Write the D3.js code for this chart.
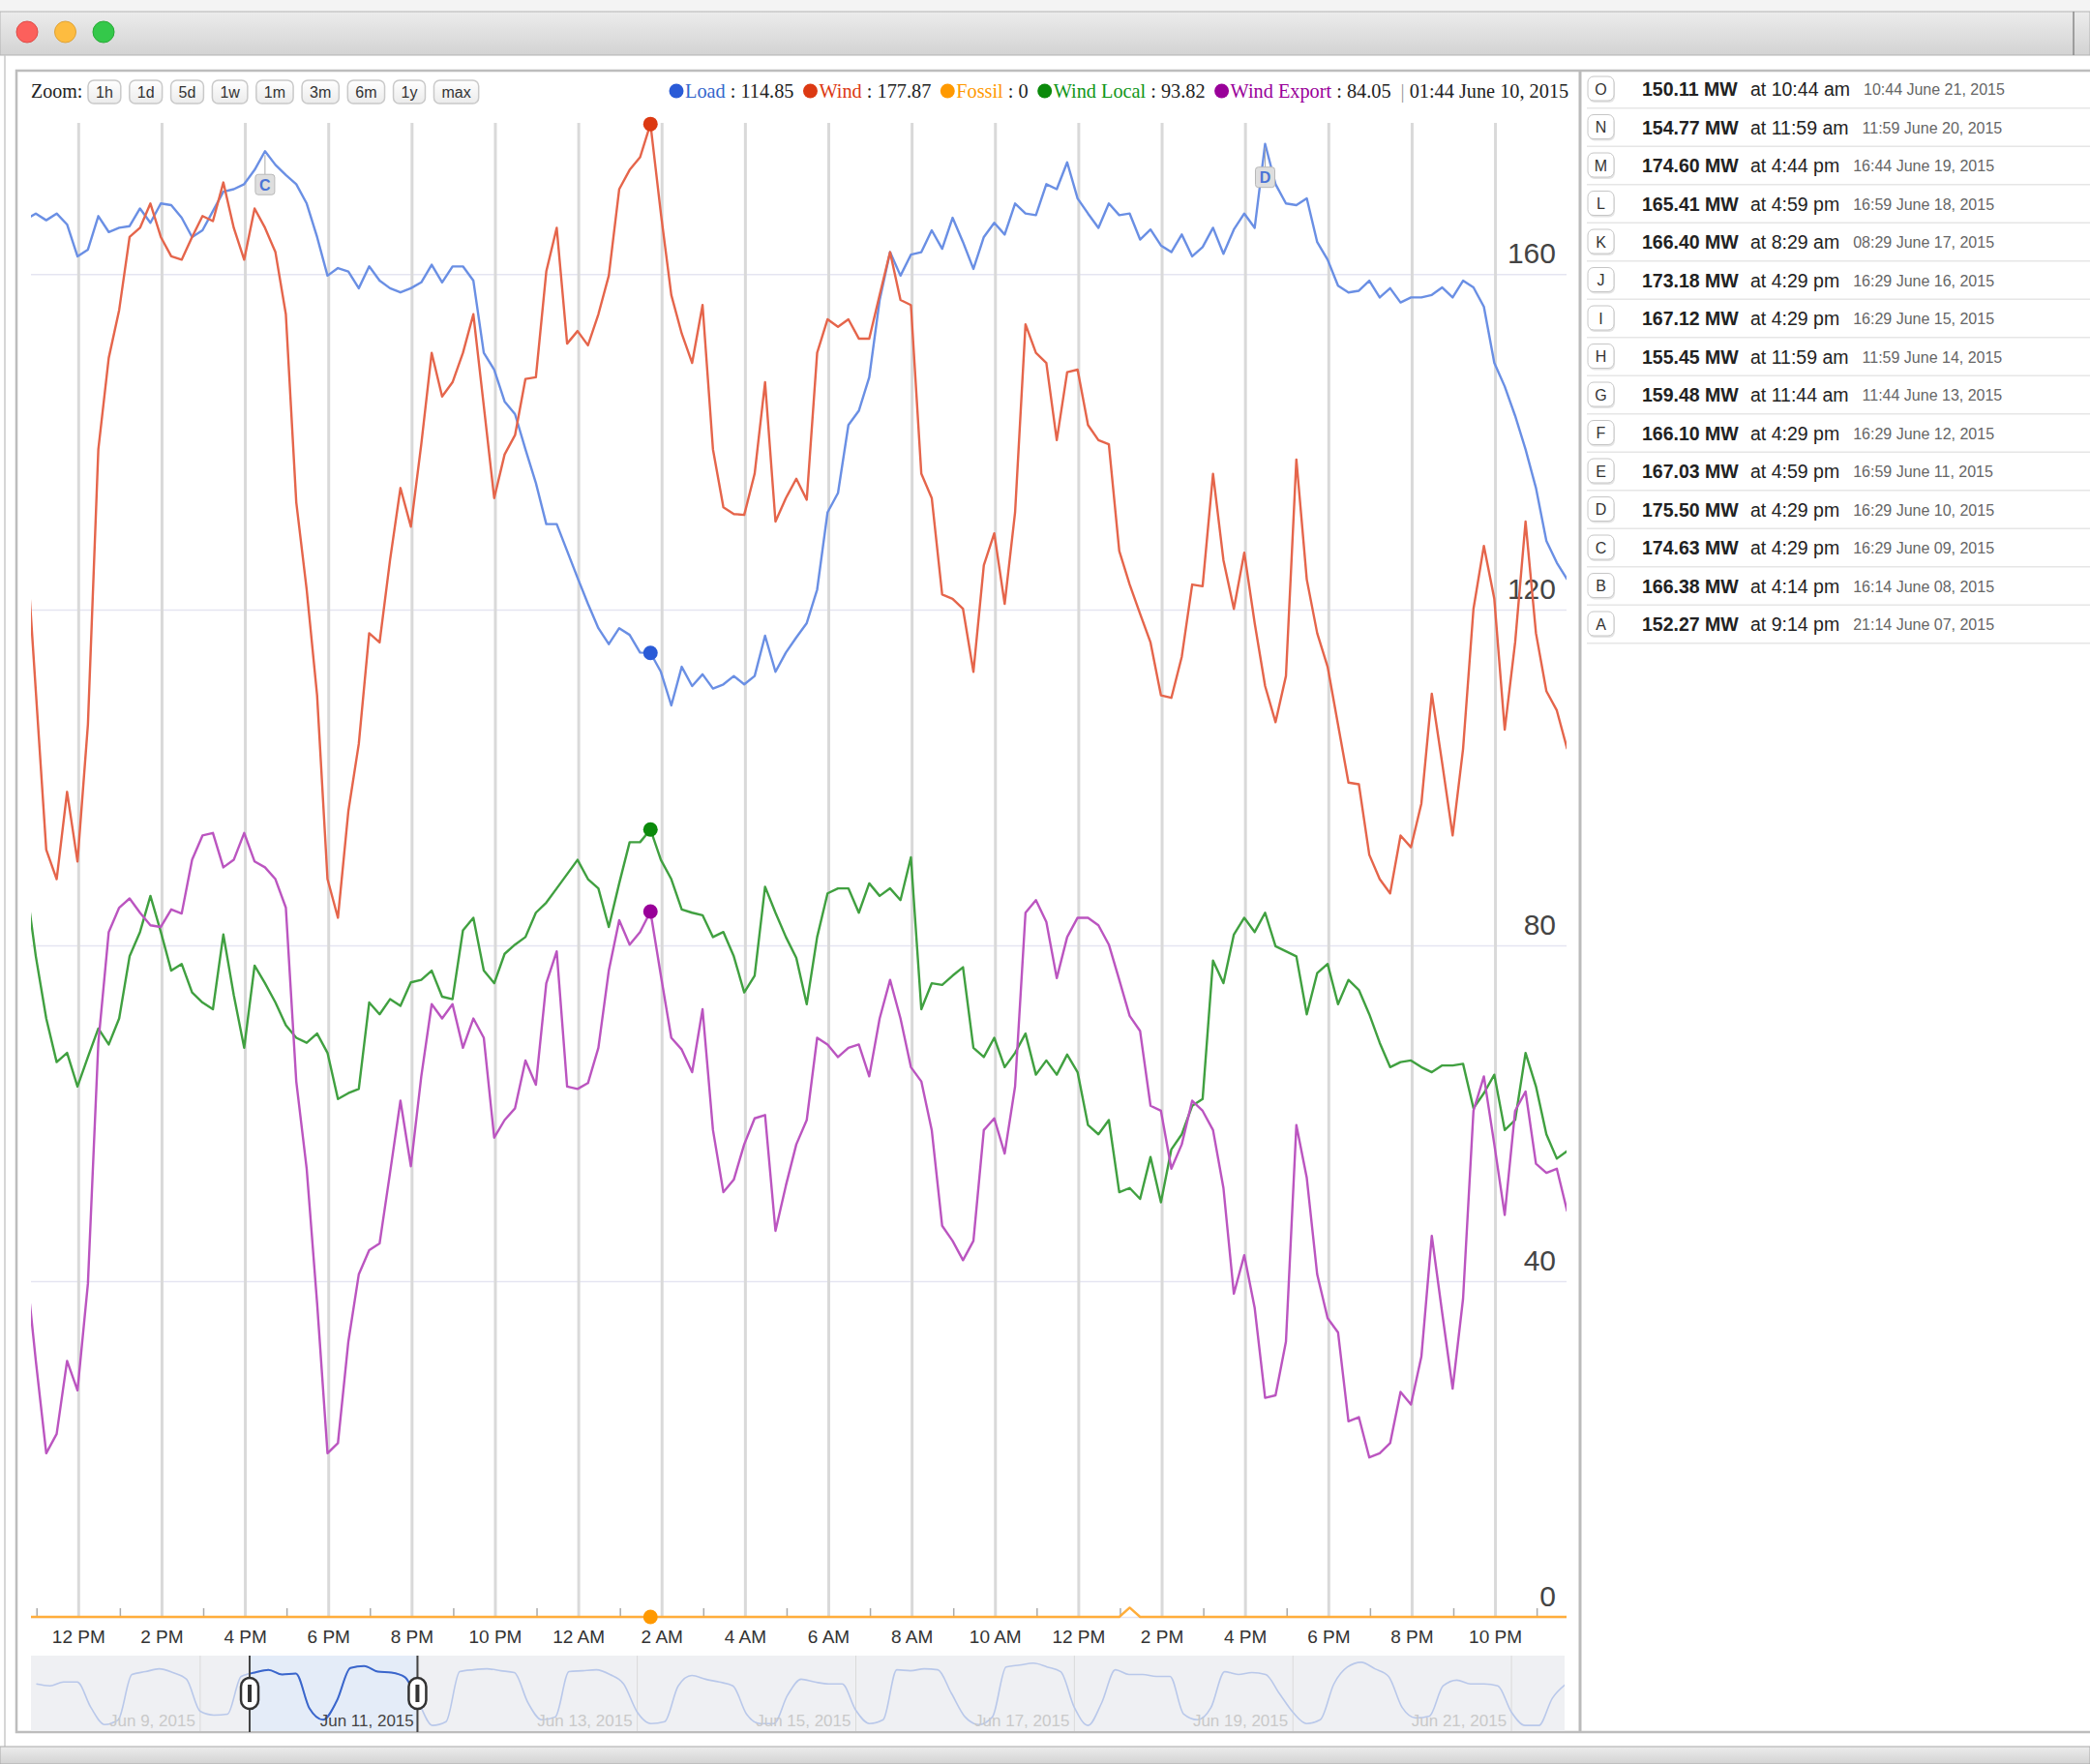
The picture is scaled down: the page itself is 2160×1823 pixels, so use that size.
<!DOCTYPE html>
<html lang="en">
<head>
    <meta charset="UTF-8">
    <title>Load and Wind, June 2015</title>
    <script src="https://d3js.org/d3.v7.min.js"></script>
    <style>
        body { margin: 0; background: #fff; }
        svg { display: block; }
        .sans { font-family: "Liberation Sans", Arial, Helvetica, sans-serif; }
        .serif { font-family: "Liberation Serif", "Times New Roman", serif; }
        .legend { font-size: 20.3px; }
        .x-label text { font-size: 19px; fill: #333; }
        .y-label text { font-size: 30px; fill: #444; }
        .grid-v line { stroke: #d9d9d9; stroke-width: 3px; }
        .grid-h line { stroke: #e5e5f1; stroke-width: 1.5px; }
        .minor line { stroke: #aaa; stroke-width: 1.5px; }
        .series { fill: none; stroke-width: 2.4px; stroke-linejoin: round; }
        .ann-value { font-size: 19.5px; font-weight: bold; fill: #222; }
        .ann-time { font-size: 19.5px; fill: #222; }
        .ann-date { font-size: 16px; fill: #666; }
    </style>
</head>
<body>
<div id="chart"></div>

<script>
    // samples every 15 minutes, first one at 10:44 June 9, 2015
    var startTime = new Date(2015, 5, 9, 10, 44);
    var stepMinutes = 15;

    var load = [
        166.5, 167.2, 166.4, 167.2, 165.9, 162.1, 162.9, 166.9, 165.0, 165.5,
        165.7, 167.8, 166.1, 168.4, 168.2, 166.7, 164.4, 165.2, 167.5, 169.8,
        170.1, 170.7, 172.4, 174.63, 173.0, 171.8, 170.7, 168.4, 164.4, 159.8,
        160.7, 160.3, 158.3, 160.9, 159.2, 158.3, 157.8, 158.3, 159.0, 161.1,
        159.0, 160.9, 160.9, 159.2, 150.6, 148.6, 144.8, 143.3, 139.1, 135.1,
        130.2, 130.2, 127.0, 123.8, 120.7, 117.8, 115.9, 117.8, 117.0, 114.9,
        114.85, 112.6, 108.6, 113.2, 110.9, 112.3, 110.6, 111.1, 112.1, 111.1,
        112.1, 116.9, 112.6, 114.9, 116.7, 118.4, 122.4, 131.6, 133.9, 142.0,
        143.7, 147.7, 156.9, 162.6, 159.8, 162.3, 162.6, 165.2, 163.0, 166.7,
        163.8, 160.6, 164.4, 166.1, 164.7, 168.4, 167.2, 167.0, 170.7, 170.1,
        173.3, 169.0, 167.2, 165.5, 168.4, 167.0, 167.2, 164.1, 165.3, 163.4,
        162.6, 164.7, 162.1, 163.2, 165.5, 162.4, 165.3, 167.2, 165.5, 175.5,
        170.7, 168.4, 168.2, 169.0, 163.8, 161.7, 158.6, 157.8, 158.0, 159.2,
        157.2, 158.3, 156.6, 157.2, 157.2, 157.5, 158.4, 157.2, 159.2, 158.4,
        156.1, 149.4, 146.6, 143.1, 139.1, 134.5, 128.2, 125.6, 123.6
    ];
    var wind = [
        129.3, 110.3, 91.4, 87.9, 98.3, 90.0, 106.3, 139.1, 150.0, 155.7,
        164.4, 165.5, 168.4, 164.4, 162.1, 161.7, 164.4, 166.9, 166.3, 170.9,
        165.5, 161.7, 167.8, 165.5, 162.6, 155.2, 132.8, 122.4, 109.8, 87.9,
        83.3, 96.0, 104.0, 117.2, 116.1, 125.9, 134.5, 129.9, 139.7, 150.6,
        145.4, 147.1, 150.6, 155.2, 144.3, 133.3, 138.5, 140.8, 147.5, 147.7,
        160.3, 165.5, 151.7, 153.2, 151.5, 155.2, 159.8, 170.1, 172.4, 173.9,
        177.87, 167.2, 157.5, 152.9, 149.4, 156.3, 139.1, 132.2, 131.4, 131.3,
        136.2, 147.1, 130.5, 133.3, 135.6, 133.1, 150.6, 154.6, 153.7, 154.6,
        152.3, 152.3, 157.5, 162.6, 156.9, 156.3, 136.2, 133.3, 121.8, 121.3,
        120.1, 112.6, 125.3, 129.1, 120.7, 131.6, 154.0, 150.6, 149.4, 140.2,
        148.3, 148.6, 142.0, 140.2, 139.7, 127.0, 123.0, 119.5, 116.1, 109.8,
        109.5, 114.4, 123.0, 122.8, 136.2, 125.9, 120.1, 126.8, 118.4, 110.9,
        106.6, 112.1, 137.9, 123.6, 117.2, 113.2, 106.3, 99.4, 99.2, 90.8,
        87.9, 86.2, 93.1, 91.7, 96.9, 110.0, 101.7, 93.1, 103.4, 120.1,
        127.6, 121.3, 105.7, 116.1, 130.5, 117.2, 110.3, 108.0, 103.4
    ];
    var fossil = [
        0, 0, 0, 0, 0, 0, 0, 0, 0, 0, 0, 0, 0, 0, 0, 0, 0, 0, 0, 0,
        0, 0, 0, 0, 0, 0, 0, 0, 0, 0, 0, 0, 0, 0, 0, 0, 0, 0, 0, 0,
        0, 0, 0, 0, 0, 0, 0, 0, 0, 0, 0, 0, 0, 0, 0, 0, 0, 0, 0, 0,
        0, 0, 0, 0, 0, 0, 0, 0, 0, 0, 0, 0, 0, 0, 0, 0, 0, 0, 0, 0,
        0, 0, 0, 0, 0, 0, 0, 0, 0, 0, 0, 0, 0, 0, 0, 0, 0, 0, 0, 0,
        0, 0, 0, 0, 0, 0, 1.1, 0, 0, 0, 0, 0, 0, 0, 0, 0, 0, 0, 0, 0,
        0, 0, 0, 0, 0, 0, 0, 0, 0, 0, 0, 0, 0, 0, 0, 0, 0, 0, 0, 0,
        0, 0, 0, 0, 0, 0, 0, 0, 0
    ];
    var windLocal = [
        87.9, 78.7, 71.3, 66.1, 67.2, 63.2, 66.7, 70.1, 68.2, 71.3,
        78.7, 81.6, 85.9, 81.6, 77.0, 77.8, 74.4, 73.2, 72.4, 81.3,
        74.1, 67.8, 77.6, 75.5, 73.2, 70.5, 69.0, 68.4, 69.5, 67.2,
        61.7, 62.4, 62.9, 73.2, 71.8, 73.6, 72.8, 75.6, 75.9, 77.0,
        73.9, 73.6, 81.8, 83.3, 77.0, 75.5, 79.0, 80.1, 81.0, 83.9,
        85.1, 86.8, 88.5, 90.2, 87.9, 86.8, 82.2, 87.4, 92.3, 92.3,
        93.82, 90.2, 87.9, 84.3, 83.9, 83.6, 81.0, 81.6, 78.7, 74.4,
        76.4, 87.0, 83.9, 81.0, 78.5, 73.0, 81.0, 86.2, 86.8, 86.8,
        83.9, 87.4, 85.9, 86.8, 85.4, 90.5, 72.4, 75.5, 75.3, 76.4,
        77.4, 67.8, 66.7, 69.0, 65.5, 67.2, 69.5, 64.6, 66.3, 64.6,
        67.0, 64.9, 58.6, 57.5, 59.2, 50.6, 51.1, 49.8, 54.8, 49.4,
        55.7, 57.5, 60.9, 61.7, 78.2, 75.5, 81.3, 83.3, 81.6, 83.9,
        79.9, 79.3, 78.7, 71.8, 76.7, 77.8, 73.0, 75.9, 74.7, 71.8,
        68.4, 65.5, 66.1, 66.3, 65.5, 64.9, 65.7, 65.7, 65.9, 60.6,
        62.4, 64.6, 58.0, 59.2, 67.2, 63.2, 57.5, 54.6, 55.5
    ];
    var windExport = [
        42.5, 30.5, 19.5, 21.8, 30.5, 27.0, 39.7, 68.4, 81.6, 84.5,
        85.6, 83.9, 82.4, 82.2, 84.3, 83.8, 90.2, 93.1, 93.4, 89.3,
        90.2, 93.4, 90.0, 89.3, 87.9, 84.5, 63.8, 53.4, 37.4, 19.5,
        20.7, 32.8, 40.8, 43.7, 44.5, 52.9, 61.5, 53.7, 64.4, 73.0,
        71.3, 73.0, 67.8, 71.3, 69.0, 57.1, 59.2, 60.6, 66.3, 63.4,
        75.5, 79.3, 63.2, 62.9, 63.6, 67.8, 77.0, 83.0, 80.1, 81.6,
        84.05, 76.4, 69.0, 67.6, 64.9, 72.4, 58.0, 50.6, 52.1, 56.3,
        59.4, 59.8, 46.0, 51.4, 56.3, 59.2, 69.0, 68.2, 66.7, 67.8,
        68.2, 64.4, 71.3, 75.9, 71.3, 65.5, 63.8, 58.0, 46.6, 44.8,
        42.5, 44.8, 58.0, 59.4, 55.2, 63.2, 83.9, 85.4, 82.8, 76.1,
        81.0, 83.3, 83.3, 82.4, 80.1, 75.9, 71.6, 69.8, 60.9, 60.3,
        53.4, 56.3, 61.5, 60.3, 58.0, 51.1, 38.5, 43.1, 36.8, 26.1,
        26.4, 32.8, 58.6, 52.3, 40.8, 35.6, 33.9, 23.3, 23.8, 19.0,
        19.5, 20.7, 26.8, 25.3, 31.0, 45.4, 36.2, 27.2, 37.9, 60.3,
        64.4, 56.3, 47.9, 60.3, 62.6, 54.0, 52.9, 53.4, 48.3
    ];

    var seriesNames = ["Load", "Wind", "Fossil", "Wind Local", "Wind Export"];
    var hoverIndex = 60;          // 01:44 June 10
    var yTicks = [0, 40, 80, 120, 160];
    var zoomLabels = ["1h", "1d", "5d", "1w", "1m", "3m", "6m", "1y", "max"];

    // lettered annotations, daily load peaks
    var annLetters = ["O", "N", "M", "L", "K", "J", "I", "H", "G", "F", "E", "D", "C", "B", "A"];
    var annValues = ["150.11", "154.77", "174.60", "165.41", "166.40", "173.18", "167.12", "155.45",
                     "159.48", "166.10", "167.03", "175.50", "174.63", "166.38", "152.27"];
    var annTimes = ["10:44 am", "11:59 am", "4:44 pm", "4:59 pm", "8:29 am", "4:29 pm", "4:29 pm", "11:59 am",
                    "11:44 am", "4:29 pm", "4:59 pm", "4:29 pm", "4:29 pm", "4:14 pm", "9:14 pm"];
    var annDates = ["10:44 June 21, 2015", "11:59 June 20, 2015", "16:44 June 19, 2015", "16:59 June 18, 2015",
                    "08:29 June 17, 2015", "16:29 June 16, 2015", "16:29 June 15, 2015", "11:59 June 14, 2015",
                    "11:44 June 13, 2015", "16:29 June 12, 2015", "16:59 June 11, 2015", "16:29 June 10, 2015",
                    "16:29 June 09, 2015", "16:14 June 08, 2015", "21:14 June 07, 2015"];
    var flagLetters = ["C", "D"];
    var flagIndex = [23, 119];

    // overview strip: load every 3 hours from 12:00 June 7
    var overviewStart = new Date(2015, 5, 7, 12, 0);
    var overviewStepHours = 3;
    var overviewLoad = [
        150, 148, 152, 152,
        125, 107, 112, 160, 163, 166, 162, 155,
        121, 117, 118, 158, 162, 165, 160, 161,
        124, 112, 132, 167, 169, 163, 162, 157,
        130, 106, 110, 163, 165, 166, 164, 162,
        130, 112, 115, 163, 164, 165, 160, 150,
        120, 108, 110, 148, 159, 155, 152, 148,
        118, 108, 108, 138, 155, 152, 150, 150,
        122, 108, 112, 165, 164, 166, 165, 140,
        115, 107, 115, 168, 170, 172, 168, 163,
        125, 106, 130, 165, 160, 160, 158, 158,
        118, 112, 125, 163, 160, 162, 160, 140,
        120, 108, 112, 150, 168, 173, 166, 158,
        125, 114, 116, 148, 154, 150, 150, 148,
        120, 106, 106, 135, 150
    ];
    var overviewDays = [new Date(2015, 5, 9), new Date(2015, 5, 11), new Date(2015, 5, 13), new Date(2015, 5, 15),
                        new Date(2015, 5, 17), new Date(2015, 5, 19), new Date(2015, 5, 21)];

    function init() {
        var w = 2160;
        var h = 1823;
        var plot = { left: 32, right: 1619, top: 127, bottom: 1671 };

        var lineColors = ["#6a8fe4", "#e5654b", "#ffad3b", "#40a040", "#bb55c0"];
        var dotColors = ["#2a5bd7", "#dc3912", "#ff9900", "#0b8a0b", "#990099"];
        var textColors = ["#3366cc", "#dc3912", "#ff9900", "#109618", "#990099"];
        var allValues = [load, wind, fossil, windLocal, windExport];

        var timeAt = function(i) { return d3.timeMinute.offset(startTime, i * stepMinutes); };

        var svg = d3.select("#chart")
            .append("svg")
            .attr("width", w)
            .attr("height", h);

        var defs = svg.append("defs");
        var tg = defs.append("linearGradient").attr("id", "titleGrad")
            .attr("x1", 0).attr("y1", 0).attr("x2", 0).attr("y2", 1);
        tg.append("stop").attr("offset", "0%").attr("stop-color", "#ececec");
        tg.append("stop").attr("offset", "100%").attr("stop-color", "#d3d3d3");
        var bg = defs.append("linearGradient").attr("id", "btnGrad")
            .attr("x1", 0).attr("y1", 0).attr("x2", 0).attr("y2", 1);
        bg.append("stop").attr("offset", "0%").attr("stop-color", "#ffffff");
        bg.append("stop").attr("offset", "100%").attr("stop-color", "#ebebeb");
        defs.append("clipPath").attr("id", "plotClip")
            .append("rect")
            .attr("x", plot.left).attr("y", 100)
            .attr("width", plot.right - plot.left).attr("height", plot.bottom - 90);

        // ---- window chrome ----
        svg.append("rect").attr("x", 0).attr("y", 0).attr("width", w).attr("height", 12).attr("fill", "#f4f4f4");
        svg.append("rect").attr("x", 0).attr("y", 12).attr("width", w).attr("height", 45)
            .attr("fill", "url(#titleGrad)").attr("stroke", "#b3b3b3");
        svg.append("line").attr("x1", 2143).attr("x2", 2143).attr("y1", 12).attr("y2", 57)
            .attr("stroke", "#888").attr("stroke-width", 1.5);
        var lights = [["#fc605c", "#de4a46"], ["#fdbc40", "#dea236"], ["#34c84a", "#27aa35"]];
        lights.forEach(function(c, i) {
            svg.append("circle").attr("cx", 28 + i * 39.5).attr("cy", 33).attr("r", 11)
                .attr("fill", c[0]).attr("stroke", c[1]);
        });
        svg.append("line").attr("x1", 5).attr("x2", 5).attr("y1", 57).attr("y2", 1805)
            .attr("stroke", "#c8c8c8").attr("stroke-width", 1.5);
        svg.append("rect").attr("x", 0).attr("y", 1805).attr("width", w).attr("height", 18)
            .attr("fill", "url(#titleGrad)").attr("stroke", "#aaa");

        // frame round the chart and the annotation panel
        svg.append("rect").attr("x", 17).attr("y", 73).attr("width", w).attr("height", 1717)
            .attr("fill", "#fff").attr("stroke", "#bdbdbd").attr("stroke-width", 2.5);
        svg.append("line").attr("x1", 1633).attr("x2", 1633).attr("y1", 73).attr("y2", 1790)
            .attr("stroke", "#bbb").attr("stroke-width", 3);

        // ---- zoom buttons ----
        svg.append("text").attr("class", "serif").attr("x", 32).attr("y", 101)
            .attr("font-size", 20).attr("fill", "#222").text("Zoom:");
        var bx = 91;
        zoomLabels.forEach(function(lab) {
            var g = svg.append("g");
            var r = g.append("rect").attr("y", 83).attr("height", 24).attr("rx", 6)
                .attr("fill", "url(#btnGrad)").attr("stroke", "#c9c9c9").attr("stroke-width", 1.5);
            var t = g.append("text").attr("class", "sans").attr("y", 100.5)
                .attr("font-size", 16).attr("fill", "#333").attr("text-anchor", "middle").text(lab);
            var tw = t.node().getComputedTextLength();
            r.attr("x", bx).attr("width", tw + 16);
            t.attr("x", bx + (tw + 16) / 2);
            bx += tw + 16 + 9;
        });

        // ---- legend ----
        var fmtDate = d3.timeFormat("%H:%M %B %-d, %Y");
        var lx = 692;
        seriesNames.forEach(function(name, i) {
            svg.append("circle").attr("cx", lx + 7).attr("cy", 94).attr("r", 7.5).attr("fill", dotColors[i]);
            var t = svg.append("text").attr("class", "serif legend").attr("x", lx + 16).attr("y", 101);
            t.append("tspan").attr("fill", textColors[i]).text(name);
            t.append("tspan").attr("fill", "#222").text(" : " + allValues[i][hoverIndex]);
            lx += 16 + t.node().getComputedTextLength() + 10;
        });
        var dt = svg.append("text").attr("class", "serif legend").attr("x", lx).attr("y", 101);
        dt.append("tspan").attr("fill", "#999").text("| ");
        dt.append("tspan").attr("fill", "#222").text(fmtDate(timeAt(hoverIndex)));

        // ---- scales ----
        var xScale = d3.scaleTime()
            .domain([new Date(2015, 5, 9, 10, 52), new Date(2015, 5, 10, 23, 43)])
            .range([plot.left, plot.right]);
        var yScale = d3.scaleLinear()
            .domain([0, 178])
            .range([plot.bottom, plot.top]);

        // horizontal grid + value labels
        var yAxis = svg.append("g")
            .attr("class", "grid-h y-label sans")
            .attr("transform", "translate(" + plot.right + ",0)")
            .call(d3.axisLeft(yScale).tickValues(yTicks).tickSize(plot.right - plot.left));
        yAxis.select(".domain").remove();
        yAxis.selectAll("text").attr("x", -11).attr("dy", null).attr("y", -12);

        // vertical grid every two hours
        var xGrid = svg.append("g")
            .attr("class", "grid-v")
            .attr("transform", "translate(0," + plot.bottom + ")")
            .call(d3.axisBottom(xScale).ticks(d3.timeHour.every(2))
                .tickSize(-(plot.bottom - plot.top)).tickFormat(""));
        xGrid.select(".domain").remove();

        // short ticks on odd hours
        var minor = svg.append("g")
            .attr("class", "minor")
            .attr("transform", "translate(0," + plot.bottom + ")")
            .call(d3.axisBottom(xScale)
                .tickValues(xScale.ticks(d3.timeHour.every(1)).filter(function(d) { return d.getHours() % 2 === 1; }))
                .tickSize(-9).tickFormat(""));
        minor.select(".domain").remove();

        var xAxis = svg.append("g")
            .attr("class", "x-label sans")
            .attr("transform", "translate(0," + plot.bottom + ")")
            .call(d3.axisBottom(xScale).ticks(d3.timeHour.every(2))
                .tickFormat(d3.timeFormat("%-I %p")).tickSize(0).tickPadding(14));
        xAxis.select(".domain").remove();

        // ---- series lines ----
        var line = d3.line()
            .x(function(d, i) { return xScale(timeAt(i)); })
            .y(function(d) { return yScale(d); });

        var lines = svg.append("g").attr("clip-path", "url(#plotClip)");
        allValues.forEach(function(vals, i) {
            lines.append("path")
                .datum(vals)
                .attr("class", "series")
                .attr("stroke", lineColors[i])
                .attr("stroke-width", i === 2 ? 3 : 2.4)
                .attr("d", line);
        });

        // annotation flags on the load line
        flagLetters.forEach(function(letter, j) {
            var px = xScale(timeAt(flagIndex[j]));
            var py = yScale(load[flagIndex[j]]);
            svg.append("line").attr("x1", px).attr("x2", px).attr("y1", py + 4).attr("y2", py + 24)
                .attr("stroke", "#aaa").attr("stroke-width", 1);
            svg.append("rect").attr("x", px - 10).attr("y", py + 24).attr("width", 20).attr("height", 21)
                .attr("rx", 3).attr("fill", "#dedede").attr("stroke", "#b8b8b8");
            svg.append("text").attr("class", "sans").attr("x", px).attr("y", py + 40.5)
                .attr("text-anchor", "middle").attr("font-size", 16).attr("font-weight", "bold")
                .attr("fill", "#4a74d6").text(letter);
        });

        // hover dots at 01:44
        allValues.forEach(function(vals, i) {
            svg.append("circle")
                .attr("cx", xScale(timeAt(hoverIndex)))
                .attr("cy", yScale(vals[hoverIndex]))
                .attr("r", 7.5)
                .attr("fill", dotColors[i]);
        });

        // ---- overview strip ----
        var nav = { left: 32, right: 1617, top: 1711, bottom: 1789 };
        var ovX = d3.scaleTime()
            .domain([new Date(2015, 5, 7, 10, 50), new Date(2015, 5, 21, 11, 40)])
            .range([nav.left, nav.right]);
        var ovY = d3.scaleLinear().domain([100, 180]).range([nav.bottom, nav.top]);
        var selA = xScale.domain()[0], selB = xScale.domain()[1];

        defs.append("clipPath").attr("id", "navClip").append("rect")
            .attr("x", nav.left).attr("y", nav.top).attr("width", nav.right - nav.left).attr("height", nav.bottom - nav.top);
        defs.append("clipPath").attr("id", "selClip").append("rect")
            .attr("x", ovX(selA)).attr("y", nav.top).attr("width", ovX(selB) - ovX(selA)).attr("height", nav.bottom - nav.top);

        svg.append("rect").attr("x", nav.left).attr("y", nav.top)
            .attr("width", nav.right - nav.left).attr("height", nav.bottom - nav.top).attr("fill", "#eff0f3");
        svg.append("rect").attr("x", ovX(selA)).attr("y", nav.top)
            .attr("width", ovX(selB) - ovX(selA)).attr("height", nav.bottom - nav.top).attr("fill", "#e4ecf8");

        svg.selectAll(".dayline").data(overviewDays).enter().append("line")
            .attr("class", "dayline")
            .attr("x1", function(d) { return ovX(d); }).attr("x2", function(d) { return ovX(d); })
            .attr("y1", nav.top).attr("y2", nav.bottom)
            .attr("stroke", "#dadada").attr("stroke-width", 1);

        var ovLine = d3.line()
            .curve(d3.curveMonotoneX)
            .x(function(d, i) { return ovX(d3.timeHour.offset(overviewStart, i * overviewStepHours)); })
            .y(function(d) { return ovY(d); });
        svg.append("path").datum(overviewLoad).attr("clip-path", "url(#navClip)")
            .attr("fill", "none").attr("stroke", "#b9c8ea").attr("stroke-width", 1.6).attr("d", ovLine);
        svg.append("path").datum(overviewLoad).attr("clip-path", "url(#selClip)")
            .attr("fill", "none").attr("stroke", "#3a66cc").attr("stroke-width", 2).attr("d", ovLine);

        // a day label sits just left of its day line, so it counts as selected when that spot is
        var fmtDay = d3.timeFormat("%b %-d, %Y");
        svg.selectAll(".daylabel").data(overviewDays).enter().append("text")
            .attr("class", "sans daylabel")
            .attr("x", function(d) { return ovX(d) - 5; })
            .attr("y", 1784)
            .attr("text-anchor", "end")
            .attr("font-size", 17)
            .attr("fill", function(d) {
                var lxp = ovX(d) - 5;
                return (lxp > ovX(selA) && lxp < ovX(selB) + 6) ? "#444" : "#c9c9c9";
            })
            .text(function(d) { return fmtDay(d); });

        [selA, selB].forEach(function(d) {
            var hx = ovX(d);
            svg.append("line").attr("x1", hx).attr("x2", hx).attr("y1", nav.top).attr("y2", nav.bottom + 1)
                .attr("stroke", "#444").attr("stroke-width", 2);
            svg.append("rect").attr("x", hx - 9).attr("y", 1734).attr("width", 18).attr("height", 32)
                .attr("rx", 9).attr("fill", "#fff").attr("stroke", "#333").attr("stroke-width", 2.5);
            svg.append("rect").attr("x", hx - 2).attr("y", 1741).attr("width", 4).attr("height", 18)
                .attr("fill", "#333");
        });

        // ---- annotation list ----
        annLetters.forEach(function(letter, i) {
            var cy = 92 + i * 39.5;
            var g = svg.append("g");
            g.append("rect").attr("x", 1642).attr("y", cy - 11).attr("width", 27).attr("height", 25)
                .attr("rx", 6).attr("fill", "#e4e4e4");
            g.append("rect").attr("x", 1641).attr("y", cy - 13).attr("width", 27).attr("height", 25)
                .attr("rx", 6).attr("fill", "#fff").attr("stroke", "#c6c6c6");
            g.append("text").attr("class", "sans").attr("x", 1654.5).attr("y", cy + 5.5)
                .attr("text-anchor", "middle").attr("font-size", 16).attr("fill", "#333").text(letter);
            g.append("text").attr("class", "sans ann-value").attr("x", 1697).attr("y", cy + 7)
                .text(annValues[i] + " MW");
            var t = g.append("text").attr("class", "sans ann-time").attr("x", 1809).attr("y", cy + 7)
                .text("at " + annTimes[i]);
            var tw = t.node().getComputedTextLength();
            g.append("text").attr("class", "sans ann-date").attr("x", 1809 + tw + 14).attr("y", cy + 6)
                .text(annDates[i]);
            g.append("line").attr("x1", 1640).attr("x2", w).attr("y1", cy + 19.75).attr("y2", cy + 19.75)
                .attr("stroke", "#e6e6e6").attr("stroke-width", 1.5);
        });
    }

    init();
</script>
</body>
</html>
